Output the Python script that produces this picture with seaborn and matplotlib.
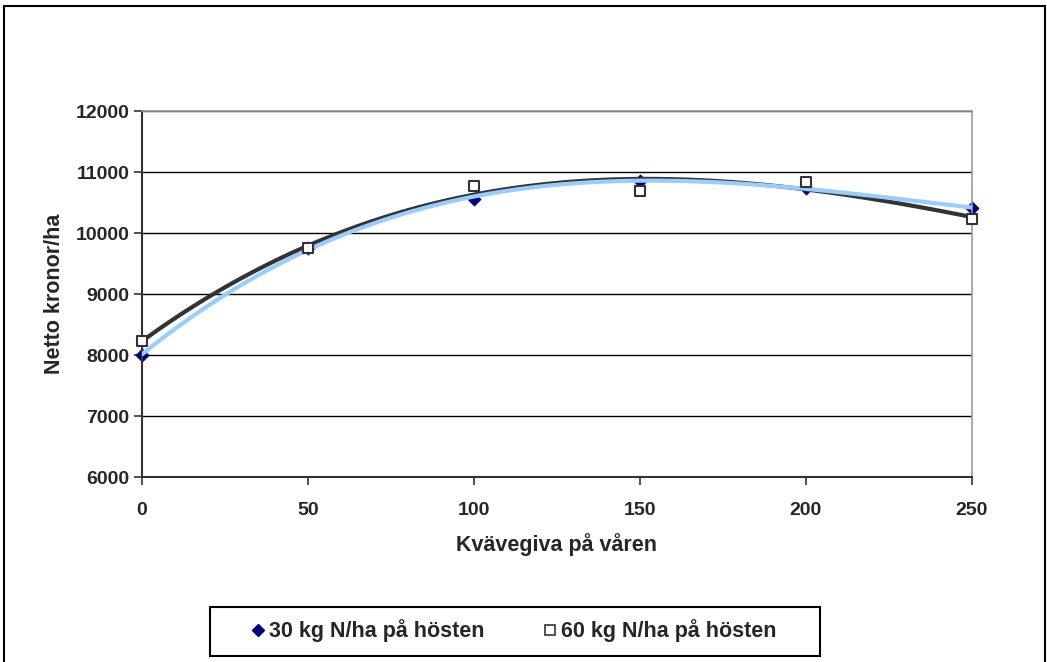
import numpy as np
import pandas as pd
import matplotlib
matplotlib.use("Agg")
import matplotlib.pyplot as plt
from matplotlib.lines import Line2D
from matplotlib.patches import Rectangle
import seaborn as sns

# Data
kvave = [0, 50, 100, 150, 200, 250]
netto_30 = [8000, 9760, 10560, 10860, 10740, 10410]
netto_60 = [8230, 9750, 10770, 10690, 10840, 10230]
label_30 = "30 kg N/ha på hösten"
label_60 = "60 kg N/ha på hösten"
xlabel = "Kvävegiva på våren"
ylabel = "Netto kronor/ha"
xticks = [0, 50, 100, 150, 200, 250]
yticks = [6000, 7000, 8000, 9000, 10000, 11000, 12000]

sns.set_style("white")
plt.rcParams['font.family'] = ['Liberation Sans', 'DejaVu Sans']
plt.rcParams['font.weight'] = 'bold'

fig = plt.figure(figsize=(10.47, 6.62), dpi=100)
ax = fig.add_axes([142/1047, 1-477/662, (972-142)/1047, (477-111)/662])

df = pd.DataFrame({"x": kvave, "y30": netto_30, "y60": netto_60})

# Trend lines (polynomial)
sns.regplot(data=df, x="x", y="y60", order=3, ci=None, scatter=False, ax=ax,
            truncate=True, line_kws=dict(color="#333333", lw=3, zorder=3))
sns.regplot(data=df, x="x", y="y30", order=3, ci=None, scatter=False, ax=ax,
            truncate=True, line_kws=dict(color="#99ccff", lw=3, zorder=4))

# Points
sns.scatterplot(data=df, x="x", y="y30", marker="D", s=45, color="#000080",
                edgecolor="#000080", ax=ax, zorder=2, clip_on=False)
sns.scatterplot(data=df, x="x", y="y60", marker="s", s=55, facecolor="white",
                edgecolor="#333333", linewidth=1.5, ax=ax, zorder=5, clip_on=False)

ax.set_xlim(0, 250)
ax.set_ylim(6000, 12000)
ax.set_xticks(xticks)
ax.set_yticks(yticks)
ax.set_xticklabels([str(t) for t in xticks], fontsize=14, fontweight='bold')
ax.set_yticklabels([str(t) for t in yticks], fontsize=14, fontweight='bold')
ax.yaxis.grid(True, color="black", lw=1)
ax.set_axisbelow(True)
ax.tick_params(axis='both', direction='out', length=6, width=1.2, color="#333333",
               left=True, bottom=True, pad=3)
ax.tick_params(axis='x', pad=12)
for s in ['left', 'bottom']:
    ax.spines[s].set_color("#333333")
    ax.spines[s].set_linewidth(1.5)
for s in ['top', 'right']:
    ax.spines[s].set_color("#999999")
    ax.spines[s].set_linewidth(1.2)

ax.set_xlabel(xlabel, fontsize=15.5, fontweight='bold', labelpad=10)
ax.set_ylabel(ylabel, fontsize=15.5, fontweight='bold', labelpad=8)

# Legend frame
fig.patches.append(Rectangle((210/1047, 1-656/662), (820-210)/1047, (656-607)/662,
                             transform=fig.transFigure, fill=True, facecolor='white',
                             edgecolor='black', lw=1.5, zorder=1))
handles = [
    Line2D([], [], ls='none', marker='D', ms=6.5, color="#000080", label=label_30),
    Line2D([], [], ls='none', marker='s', ms=7, markerfacecolor='white',
           markeredgecolor="#333333", markeredgewidth=1.2, label=label_60),
]
leg = fig.legend(handles=handles, ncol=2, loc='center',
                 bbox_to_anchor=(514/1047, 1-631/662),
                 frameon=False, prop=dict(size=15.5, weight='bold'), handlelength=0.6,
                 handletextpad=0.25, columnspacing=2.7, borderaxespad=0)

fig.patches.append(Rectangle((4/1047, -0.05), (1045-4)/1047, 1-6/662+0.05,
                             transform=fig.transFigure, fill=False,
                             edgecolor='black', lw=1.5))

fig.savefig("out.png", dpi=100)
